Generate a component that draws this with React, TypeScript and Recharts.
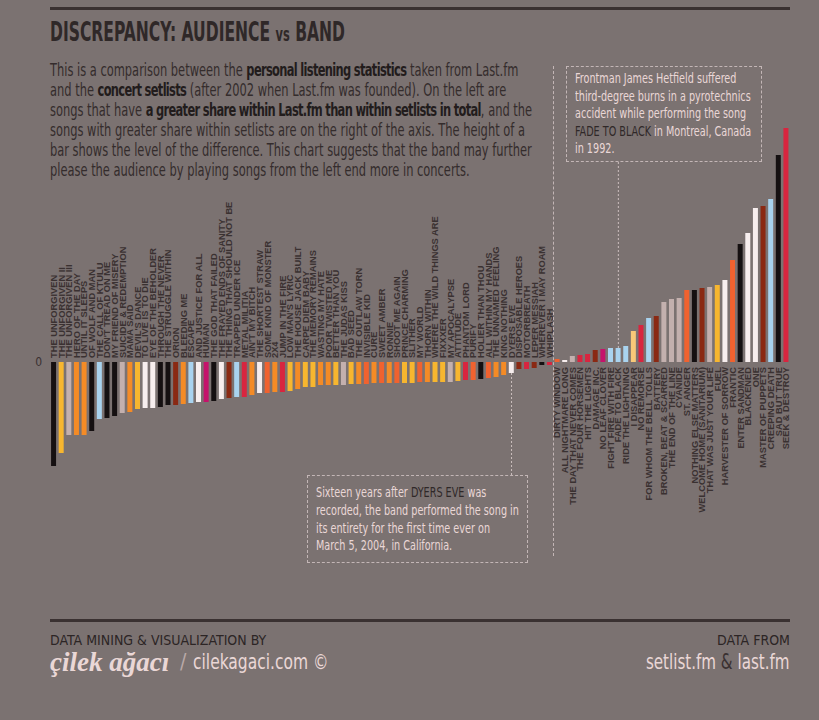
import React from 'react';
import { BarChart, Bar, XAxis, YAxis, Cell, LabelList, ReferenceLine } from 'recharts';

// songs with a bigger share on Last.fm (left of the axis)
const leftSongs = [
	'THE UNFORGIVEN', 'THE UNFORGIVEN II', 'THE UNFORGIVEN III', 'HERO OF THE DAY', 'UNTIL IT SLEEPS',
	'OF WOLF AND MAN', 'THE CALL OF KTULU', "DON'T TREAD ON ME", 'MY FRIEND OF MISERY', 'SUICIDE & REDEMPTION',
	'MAMA SAID', "DEVIL'S DANCE", 'TO LIVE IS TO DIE', 'EYE OF THE BEHOLDER', 'THROUGH THE NEVER',
	'THE STRUGGLE WITHIN', 'ORION', 'BLEEDING ME', 'ESCAPE', 'AND JUSTICE FOR ALL',
	'HUMAN', 'THE GOD THAT FAILED', 'THE FRAYED ENDS OF SANITY', 'THE THING THAT SHOULD NOT BE', 'TRAPPED UNDER ICE',
	'METAL MILITIA', "AIN'T MY BITCH", 'THE SHORTEST STRAW', 'SOME KIND OF MONSTER', '2X4',
	'JUMP IN THE FIRE', "LOW MAN'S LYRIC", 'THE HOUSE JACK BUILT', 'CARPE DIEM BABY', 'THE MEMORY REMAINS',
	'WASTING MY HATE', 'POOR TWISTED ME', 'BETTER THAN YOU', 'THE JUDAS KISS', 'BAD SEED',
	'THE OUTLAW TORN', 'INVISIBLE KID', 'CURE', 'SWEET AMBER', 'RONNIE',
	'SHOOT ME AGAIN', 'PRINCE CHARMING', 'SLITHER', 'MY WORLD', 'THORN WITHIN',
	'WHERE THE WILD THINGS ARE', 'FIXXXER', 'MY APOCALYPSE', 'ATTITUDE', 'PHANTOM LORD',
	'PURIFY', 'HOLIER THAN THOU', 'ALL WITHIN MY HANDS', 'THE UNNAMED FEELING', 'KING NOTHING',
	'DYERS EVE', 'DISPOSABLE HEROES', 'MOTORBREATH', 'LEPER MESSIAH', 'WHEREVER I MAY ROAM',
	'WHIPLASH',
];
const leftValues = [
	-104, -91, -73, -73, -73, -69, -57, -56, -54, -51,
	-50, -47, -46, -46, -45, -43, -43, -42, -41, -40,
	-40, -39, -37, -36, -35, -35, -33, -31, -31, -30,
	-30, -29, -27, -25, -25, -23, -23, -23, -23, -22,
	-22, -22, -21, -21, -21, -21, -21, -21, -20, -20,
	-20, -20, -20, -19, -18, -18, -17, -16, -15, -13,
	-11, -7, -7, -6, -3, -3,
];

// songs with a bigger share in setlists (right of the axis)
const rightSongs = [
	'DIRTY WINDOW', 'ALL NIGHTMARE LONG', 'THE DAY THAT NEVER COMES', 'THE FOUR HORSEMEN', 'HIT THE LIGHTS',
	'DAMAGE INC.', 'NO LEAF CLOVER', 'FIGHT FIRE WITH FIRE', 'FADE TO BLACK', 'RIDE THE LIGHTNING',
	'I DISAPPEAR', 'NO REMORSE', 'FOR WHOM THE BELL TOLLS', 'BATTERY', 'BROKEN, BEAT & SCARRED',
	'THE END OF THE LINE', 'CYANIDE', 'ST. ANGER', 'NOTHING ELSE MATTERS', 'WELCOME HOME (SANITARIUM)',
	'THAT WAS JUST YOUR LIFE', 'FUEL', 'HARVESTER OF SORROW', 'FRANTIC', 'ENTER SANDMAN',
	'BLACKENED', 'ONE', 'MASTER OF PUPPETS', 'CREEPING DEATH', 'SAD BUT TRUE',
	'SEEK & DESTROY',
];
const rightValues = [
	3, 2, 6, 7, 8, 12, 13, 14, 14, 16,
	31, 37, 44, 46, 60, 63, 64, 72, 72, 74,
	75, 77, 82, 102, 118, 129, 154, 156, 163, 207,
	234,
];

const yTicks = [0];

// colour per bar, in the same order as the songs
const C: Record<string, string> = {
	k: '#151011', y: '#f7b62f', g: '#c3b0ae', o: '#f48b26', b: '#a9d3ef', w: '#f7eeee',
	d: '#8a2913', m: '#c5136b', r: '#d8253f', e: '#f0622f', p: '#f8c878',
};
const leftColorKeys = [
	'k', 'y', 'g', 'o', 'o', 'k', 'b', 'k', 'k', 'g',
	'o', 'y', 'w', 'w', 'k', 'k', 'd', 'o', 'b', 'w',
	'm', 'k', 'w', 'd', 'b', 'r', 'o', 'w', 'e', 'o',
	'r', 'y', 'o', 'y', 'y', 'o', 'o', 'y', 'g', 'y',
	'o', 'e', 'o', 'e', 'o', 'e', 'y', 'y', 'e', 'o',
	'y', 'y', 'g', 'y', 'r', 'e', 'k', 'e', 'o', 'o',
	'w', 'd', 'r', 'd', 'k', 'r',
];
const rightColorKeys = [
	'e', 'w', 'g', 'r', 'r', 'd', 'm', 'b', 'b', 'b',
	'p', 'r', 'b', 'd', 'g', 'g', 'g', 'e', 'k', 'd',
	'g', 'y', 'w', 'e', 'k', 'w', 'w', 'd', 'b', 'k',
	'r',
];

const data = [
	...leftSongs.map((name, i) => ({ name, value: leftValues[i], color: C[leftColorKeys[i]] })),
	...rightSongs.map((name, i) => ({ name, value: rightValues[i], color: C[rightColorKeys[i]] })),
];

const BG = '#7b7271';
const DARK = '#2f2828';
const LIGHT = '#ead7d6';
const NARROW = "'DejaVu Sans Condensed', 'Liberation Sans', sans-serif";

const SongLabel = (props: any) => {
	const { x, y, width, height, value, index } = props;
	const v = data[index]?.value ?? 0;
	const cx = x + width / 2;
	const neg = v < 0;
	const zeroY = neg ? Math.min(y, y + height) : Math.max(y, y + height);
	const ty = neg ? zeroY - 4 : zeroY + 5;
	return (
		<text
			x={cx}
			y={ty}
			dy='0.36em'
			transform={`rotate(-90 ${cx} ${ty})`}
			textAnchor={neg ? 'start' : 'end'}
			fontSize={9.3}
			fontWeight={700}
			fontFamily="'Liberation Sans', Arial, sans-serif"
			fill='#3a3131'
		>
			{value}
		</text>
	);
};

const Rule = ({ top }: { top: number }) => (
	<div style={{ position: 'absolute', left: 50, top, width: 740, height: 3, background: '#3a3131' }} />
);

const B = ({ children }: { children: React.ReactNode }) => (
	<b style={{ color: '#221c1c', letterSpacing: -0.9 }}>{children}</b>
);

const paragraph: React.ReactNode[] = [
	<>This is a comparison between the <B>personal listening statistics</B> taken from Last.fm</>,
	<>and the <B>concert setlists</B> (after 2002 when Last.fm was founded). On the left are</>,
	<>songs that have <B>a greater share within Last.fm than within setlists in total</B>, and the</>,
	<>songs with greater share within setlists are on the right of the axis. The height of a</>,
	<>bar shows the level of the difference. This chart suggests that the band may further</>,
	<>please the audience by playing songs from the left end more in concerts.</>,
];

const hetfield: React.ReactNode[] = [
	<>Frontman James Hetfield suffered</>,
	<>third-degree burns in a pyrotechnics</>,
	<>accident while performing the song</>,
	<><span style={{ color: DARK }}>FADE TO BLACK</span> in Montreal, Canada</>,
	<>in 1992.</>,
];

const dyers: React.ReactNode[] = [
	<>Sixteen years after <span style={{ color: DARK }}>DYERS EVE</span> was</>,
	<>recorded, the band performed the song in</>,
	<>its entirety for the first time ever on</>,
	<>March 5, 2004, in California.</>,
];

const Lines = ({ lines, lh, sx }: { lines: React.ReactNode[]; lh: number; sx: number }) => (
	<div style={{ transform: `scaleX(${sx})`, transformOrigin: 'left top', whiteSpace: 'nowrap' }}>
		{lines.map((line, i) => (
			<div key={i} style={{ height: lh, lineHeight: `${lh}px` }}>
				{line}
			</div>
		))}
	</div>
);

export default function App() {
	return (
		<div
			style={{
				position: 'absolute',
				left: 0,
				top: 0,
				width: 819,
				height: 720,
				background: BG,
				overflow: 'hidden',
				fontFamily: NARROW,
			}}
		>
			<Rule top={7} />

			<div
				style={{
					position: 'absolute',
					left: 50,
					top: 17,
					fontSize: 26,
					fontWeight: 700,
					color: DARK,
					whiteSpace: 'nowrap',
					transform: 'scaleX(0.665)',
					transformOrigin: 'left top',
				}}
			>
				DISCREPANCY: AUDIENCE <span style={{ fontSize: 19 }}>vs</span> BAND
			</div>

			<div style={{ position: 'absolute', left: 50, top: 60, color: '#342c2c', fontSize: 17 }}>
				<Lines lines={paragraph} lh={20} sx={0.748} />
			</div>

			<div style={{ position: 'absolute', left: 0, top: 0 }}>
				<BarChart
					width={819}
					height={720}
					data={data}
					margin={{ top: 122, right: 29, bottom: 118, left: 34 }}
					barCategoryGap='14%'
				>
					<XAxis dataKey='name' hide />
					<YAxis
						domain={[-240, 240]}
						ticks={yTicks}
						width={16}
						axisLine={false}
						tickLine={false}
						allowDataOverflow
						tick={{ fill: '#3a3131', fontSize: 12, fontFamily: NARROW }}
					/>
					<ReferenceLine
						segment={[
							{ x: 'FADE TO BLACK', y: 200 },
							{ x: 'FADE TO BLACK', y: 14 },
						]}
						stroke='#cbbebe'
						strokeDasharray='2 2'
						ifOverflow='visible'
					/>
					<ReferenceLine
						segment={[
							{ x: 'DYERS EVE', y: -11 },
							{ x: 'DYERS EVE', y: -113 },
						]}
						stroke='#cbbebe'
						strokeDasharray='2 2'
						ifOverflow='visible'
					/>
					<Bar dataKey='value' isAnimationActive={false}>
						{data.map((d) => (
							<Cell key={d.name} fill={d.color} />
						))}
						<LabelList dataKey='name' content={SongLabel} />
					</Bar>
				</BarChart>
			</div>

			{/* axis divider */}
			<div
				style={{
					position: 'absolute',
					left: 553,
					top: 66,
					height: 490,
					borderLeft: '1px dashed #c3b6b6',
				}}
			/>

			<div
				style={{
					position: 'absolute',
					left: 566,
					top: 66,
					width: 196,
					height: 96,
					border: '1px dashed #c3b6b6',
					boxSizing: 'border-box',
					padding: '3px 0 0 8px',
					color: LIGHT,
					fontSize: 14.5,
				}}
			>
				<Lines lines={hetfield} lh={17.5} sx={0.74} />
			</div>

			<div
				style={{
					position: 'absolute',
					left: 307,
					top: 475,
					width: 221,
					height: 88,
					border: '1px dashed #c3b6b6',
					boxSizing: 'border-box',
					padding: '8px 0 0 8px',
					color: LIGHT,
					fontSize: 14.5,
				}}
			>
				<Lines lines={dyers} lh={17.8} sx={0.74} />
			</div>

			<Rule top={619} />

			<div style={{ position: 'absolute', left: 50, top: 632, fontSize: 14, color: '#2c2525' }}>
				DATA MINING &amp; VISUALIZATION BY
			</div>
			<div style={{ position: 'absolute', left: 50, top: 647, whiteSpace: 'nowrap', color: LIGHT }}>
				<span
					style={{
						fontFamily: "'Liberation Serif', 'DejaVu Serif', serif",
						fontStyle: 'italic',
						fontWeight: 700,
						fontSize: 27,
					}}
				>
					çilek ağacı
				</span>
			</div>
			<div style={{ position: 'absolute', left: 180, top: 650, fontSize: 21, color: '#b9a9a8' }}>/</div>
			<div
				style={{
					position: 'absolute',
					left: 193,
					top: 650,
					fontSize: 21,
					color: LIGHT,
					whiteSpace: 'nowrap',
					transform: 'scaleX(0.82)',
					transformOrigin: 'left top',
				}}
			>
				cilekagaci.com ©
			</div>

			<div style={{ position: 'absolute', right: 29, top: 632, fontSize: 14, color: '#2c2525', textAlign: 'right' }}>
				DATA FROM
			</div>
			<div
				style={{
					position: 'absolute',
					right: 29,
					top: 650,
					fontSize: 21,
					color: LIGHT,
					whiteSpace: 'nowrap',
					transform: 'scaleX(0.8)',
					transformOrigin: 'right top',
				}}
			>
				setlist.fm <span style={{ color: '#3a3131' }}>&amp;</span> last.fm
			</div>
		</div>
	);
}
